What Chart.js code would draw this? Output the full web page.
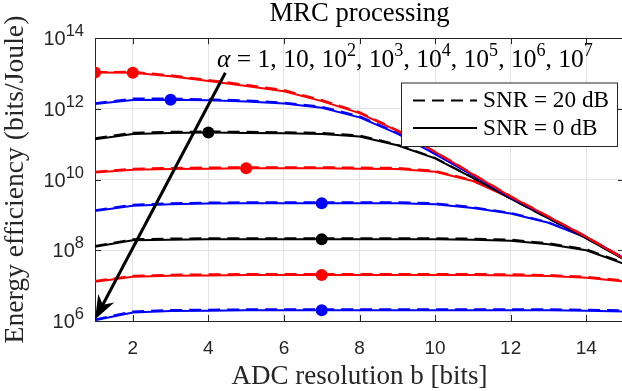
<!DOCTYPE html>
<html><head><meta charset="utf-8">
<script src="https://cdn.jsdelivr.net/npm/chart.js@4"></script>
<style>
html,body{margin:0;padding:0;background:#fff;overflow:hidden;width:622px;height:391px}
#wrap{position:relative;width:630px;height:391px}
canvas{display:block}
</style>
</head><body><div id="wrap"><canvas id="c" width="630" height="391"></canvas></div>
<script>
// ---------------- data ----------------
const bits = [1,2,3,4,5,6,7,8,9,10,11,12,13,14,15];
const xTickValues = [2,4,6,8,10,12,14];
const yTickValues = [1e6,1e8,1e10,1e12,1e14];
const yTickExponents = ['6','8','10','12','14'];
const alphaExponents = ['', '', '2','3','4','5','6','7']; // alpha = 1, 10, 10^2 ... 10^7

// SNR = 0 dB (solid)
const ee0dB_a1e0 = [1.07e13,1.05e13,8.32e12,6.17e12,4.47e12,3.16e12,1.66e12,7.59e11,2.40e11,6.03e10,1.41e10,3.31e9,8.91e8,2.40e8,5.75e7];
const ee0dB_a1e1 = [1.38e12,1.78e12,1.82e12,1.74e12,1.62e12,1.41e12,1.07e12,5.75e11,2.00e11,5.25e10,1.32e10,3.16e9,8.71e8,2.40e8,5.89e7];
const ee0dB_a1e2 = [1.38e11,1.95e11,2.09e11,2.14e11,2.09e11,2.04e11,1.95e11,1.66e11,9.33e10,3.98e10,1.12e10,2.88e9,7.94e8,2.19e8,5.50e7];
const ee0dB_a1e3 = [1.58e10,1.91e10,2.00e10,2.04e10,2.09e10,2.09e10,2.09e10,2.04e10,2.00e10,1.66e10,9.12e9,3.02e9,8.51e8,2.34e8,6.03e7];
const ee0dB_a1e4 = [1.29e9,1.82e9,2.00e9,2.09e9,2.14e9,2.14e9,2.14e9,2.14e9,2.14e9,2.00e9,1.58e9,1.10e9,6.03e8,2.29e8,5.89e7];
const ee0dB_a1e5 = [1.26e8,1.91e8,2.00e8,2.04e8,2.04e8,2.04e8,2.04e8,2.04e8,2.04e8,2.04e8,2.00e8,1.86e8,1.48e8,1.00e8,4.17e7];
const ee0dB_a1e6 = [1.29e7,1.78e7,1.91e7,1.95e7,2.00e7,2.00e7,2.00e7,2.00e7,2.00e7,2.00e7,2.00e7,1.95e7,1.86e7,1.66e7,1.32e7];
const ee0dB_a1e7 = [1.05e6,1.74e6,1.91e6,1.95e6,2.00e6,2.00e6,2.00e6,2.00e6,2.00e6,2.00e6,2.00e6,2.00e6,2.00e6,1.95e6,1.86e6];

// SNR = 20 dB (dashed)
const ee20dB_a1e0 = [1.10e13,1.12e13,8.90e12,6.60e12,4.80e12,3.40e12,1.78e12,8.10e11,2.50e11,6.20e10,1.45e10,3.40e9,9.10e8,2.45e8,5.90e7];
const ee20dB_a1e1 = [1.45e12,1.95e12,1.95e12,1.86e12,1.74e12,1.51e12,1.15e12,6.20e11,2.10e11,5.40e10,1.35e10,3.20e9,8.80e8,2.42e8,5.90e7];
const ee20dB_a1e2 = [1.48e11,2.10e11,2.24e11,2.29e11,2.24e11,2.19e11,2.09e11,1.78e11,9.80e10,4.10e10,1.14e10,2.90e9,8.00e8,2.20e8,5.60e7];
const ee20dB_a1e3 = [1.66e10,2.04e10,2.14e10,2.19e10,2.24e10,2.24e10,2.24e10,2.19e10,2.14e10,1.78e10,9.50e9,3.10e9,8.60e8,2.36e8,6.10e7];
const ee20dB_a1e4 = [1.35e9,1.95e9,2.14e9,2.24e9,2.29e9,2.29e9,2.29e9,2.29e9,2.29e9,2.14e9,1.66e9,1.15e9,6.20e8,2.32e8,5.90e7];
const ee20dB_a1e5 = [1.32e8,2.04e8,2.14e8,2.19e8,2.19e8,2.19e8,2.19e8,2.19e8,2.19e8,2.19e8,2.14e8,2.00e8,1.58e8,1.07e8,4.40e7];
const ee20dB_a1e6 = [1.35e7,1.91e7,2.04e7,2.09e7,2.14e7,2.14e7,2.14e7,2.14e7,2.14e7,2.14e7,2.14e7,2.09e7,2.00e7,1.78e7,1.41e7];
const ee20dB_a1e7 = [1.10e6,1.86e6,2.04e6,2.09e6,2.14e6,2.14e6,2.14e6,2.14e6,2.14e6,2.14e6,2.14e6,2.14e6,2.14e6,2.09e6,2.00e6];

// optimum points (markers)
const optimumBits = [1,2,3,4,5,7,7,7,7];
const optimumEE   = [1.07e13,1.05e13,1.82e12,2.14e11,2.09e10,2.14e9,2.04e8,2.00e7,2.00e6];

// arrow annotation (data coordinates)
const arrowStart = {x: 4.45, y: 1.05e13};
const arrowEnd   = {x: 1.0,  y: 1.1e6};

// ---------------- styles ----------------
const RED = '#ff0000', BLUE = '#0000ff', BLACK = '#000000';
const curveColors = [RED, BLUE, BLACK, RED, BLUE, BLACK, RED, BLUE];
const optimumColors = [RED, RED, BLUE, BLACK, RED, BLUE, BLACK, RED, BLUE];
const AXIS = '#262626', GRID = '#e3e3e3';
const DASH = [12, 7];
const SERIF = '"Liberation Serif", "Times New Roman", serif';
const SANS = '"Liberation Sans", Arial, sans-serif';

function fitSize(text, family, targetWidth, style) {
  const c = document.createElement('canvas').getContext('2d');
  c.font = (style || '') + ' 100px ' + family;
  return 100 * targetWidth / c.measureText(text).width;
}
const titleText = 'MRC processing';
const xTitleText = 'ADC resolution b [bits]';
const yTitleText = 'Energy efficiency (bits/Joule)';
const leg20 = 'SNR = 20 dB', leg0 = 'SNR = 0 dB';
const titleSize = fitSize(titleText, SERIF, 180);
const xTitleSize = fitSize(xTitleText, SERIF, 256);
const yTitleSize = fitSize(yTitleText, SERIF, 328);
const legSize = fitSize(leg20, SERIF, 126);

const solid = [ee0dB_a1e0,ee0dB_a1e1,ee0dB_a1e2,ee0dB_a1e3,ee0dB_a1e4,ee0dB_a1e5,ee0dB_a1e6,ee0dB_a1e7];
const dashed = [ee20dB_a1e0,ee20dB_a1e1,ee20dB_a1e2,ee20dB_a1e3,ee20dB_a1e4,ee20dB_a1e5,ee20dB_a1e6,ee20dB_a1e7];

const datasets = [];
solid.forEach((arr, i) => {
  datasets.push({label:'SNR = 0 dB', data: bits.map((b,j)=>({x:b,y:arr[j]})), borderColor: curveColors[i],
    borderWidth: 2, pointRadius: 0, tension: 0, fill:false});
  datasets.push({label:'SNR = 20 dB', data: bits.map((b,j)=>({x:b,y:dashed[i][j]})), borderColor: curveColors[i],
    borderWidth: 2, borderDash: DASH, pointRadius: 0, tension: 0, fill:false});
});
datasets.push({label:'optimum', data: optimumBits.map((b,j)=>({x:b,y:optimumEE[j]})), showLine:false,
  pointRadius: 6, pointHoverRadius: 6, pointBackgroundColor: optimumColors, pointBorderWidth: 0, borderWidth: 0});

// ---------------- drawing plugin ----------------
const decor = {
  id: 'decor',
  afterDatasetsDraw(chart) {
    const {ctx, chartArea: a, scales: {x, y}} = chart;
    ctx.save();
    // box + inward ticks
    ctx.strokeStyle = AXIS; ctx.lineWidth = 1;
    ctx.beginPath();
    ctx.moveTo(a.left, Math.round(a.top)+0.5); ctx.lineTo(a.right, Math.round(a.top)+0.5);
    ctx.moveTo(a.right-0.5, a.top); ctx.lineTo(a.right-0.5, a.bottom);
    xTickValues.forEach(v => {
      const px = Math.round(x.getPixelForValue(v)) + 0.5;
      ctx.moveTo(px, a.bottom); ctx.lineTo(px, a.bottom - 6);
      ctx.moveTo(px, a.top); ctx.lineTo(px, a.top + 6);
    });
    yTickValues.forEach(v => {
      const py = Math.round(y.getPixelForValue(v)) + 0.5;
      ctx.moveTo(a.left, py); ctx.lineTo(a.left + 6, py);
      ctx.moveTo(a.right, py); ctx.lineTo(a.right - 6, py);
    });
    ctx.stroke();

    // y tick labels with superscripts
    ctx.fillStyle = AXIS;
    const baseFont = '20px ' + SANS, supFont = '16.5px ' + SANS;
    yTickValues.forEach((v, i) => {
      const py = y.getPixelForValue(v);
      const exp = yTickExponents[i];
      ctx.font = supFont; const ws = ctx.measureText(exp).width;
      ctx.font = baseFont; const wb = ctx.measureText('10').width;
      const right = a.left - 11;
      ctx.textAlign = 'left';
      ctx.textBaseline = 'middle';
      ctx.fillText('10', right - ws - wb, py + 1.5);
      ctx.font = supFont; ctx.textBaseline = 'alphabetic';
      ctx.fillText(exp, right - ws, py - 2);
    });

    // arrow
    const tx = x.getPixelForValue(arrowEnd.x), ty = y.getPixelForValue(arrowEnd.y);
    const sx = x.getPixelForValue(arrowStart.x), sy = y.getPixelForValue(arrowStart.y);
    const len = Math.hypot(sx - tx, sy - ty);
    const ux = (sx - tx) / len, uy = (sy - ty) / len, nx = -uy, ny = ux;
    const L = 24, W = 9;
    ctx.strokeStyle = BLACK; ctx.lineWidth = 3;
    ctx.beginPath(); ctx.moveTo(sx, sy); ctx.lineTo(tx + ux * L * 0.6, ty + uy * L * 0.6); ctx.stroke();
    ctx.fillStyle = BLACK;
    ctx.beginPath();
    ctx.moveTo(tx, ty);
    ctx.lineTo(tx + ux * L + nx * W, ty + uy * L + ny * W);
    ctx.lineTo(tx + ux * L * 0.7, ty + uy * L * 0.7);
    ctx.lineTo(tx + ux * L - nx * W, ty + uy * L - ny * W);
    ctx.closePath(); ctx.fill();

    // alpha annotation
    const aSize = 24, supSize = 17;
    const segs = [{t:'α', it:true}, {t:' = '}];
    alphaExponents.forEach((e, i) => {
      if (i > 0) segs.push({t:', '});
      if (i === 0) segs.push({t:'1'});
      else { segs.push({t:'10'}); if (e) segs.push({t:e, sup:true}); }
    });
    let total = 0;
    segs.forEach(s => { ctx.font = (s.it ? 'italic ' : '') + (s.sup ? supSize : aSize) + 'px ' + SERIF; s.w = ctx.measureText(s.t).width; total += s.w; });
    const scale = 376 / total;
    let cx = 217; const base = 67;
    ctx.fillStyle = BLACK; ctx.textAlign = 'left'; ctx.textBaseline = 'alphabetic';
    segs.forEach(s => {
      const fs = (s.sup ? supSize : aSize) * scale;
      ctx.font = (s.it ? 'italic ' : '') + fs + 'px ' + SERIF;
      ctx.fillText(s.t, cx, s.sup ? base - aSize * scale * 0.42 : base);
      cx += ctx.measureText(s.t).width;
    });

    // legend
    const lx = 401, ly = 82.5, lw = 216, lh = 63.5;
    ctx.fillStyle = '#ffffff'; ctx.fillRect(lx, ly, lw, lh);
    ctx.strokeStyle = AXIS; ctx.lineWidth = 1; ctx.strokeRect(lx + 0.5, ly + 0.5, lw, lh);
    ctx.strokeStyle = BLACK; ctx.lineWidth = 2;
    ctx.setLineDash(DASH);
    ctx.beginPath(); ctx.moveTo(413, 100.5); ctx.lineTo(477, 100.5); ctx.stroke();
    ctx.setLineDash([]);
    ctx.beginPath(); ctx.moveTo(413, 128); ctx.lineTo(477, 128); ctx.stroke();
    ctx.fillStyle = BLACK; ctx.font = legSize + 'px ' + SERIF; ctx.textBaseline = 'middle';
    ctx.fillText(leg20, 483, 101);
    ctx.fillText(leg0, 483, 128.5);
    ctx.restore();
  }
};

new Chart(document.getElementById('c'), {
  type: 'line',
  data: { datasets },
  options: {
    responsive: false, animation: false, devicePixelRatio: 1, events: [],
    layout: { padding: { left: 0, right: 5.3, top: 0, bottom: 0 } },
    plugins: {
      legend: { display: false }, tooltip: { enabled: false },
      title: { display: true, text: titleText, fullSize: false, color: BLACK,
        font: { family: SERIF, size: titleSize, weight: 'normal', lineHeight: 1 },
        padding: { top: 0.5, bottom: 11 } }
    },
    scales: {
      x: {
        type: 'linear', min: 1, max: 15,
        afterBuildTicks: s => { s.ticks = xTickValues.map(v => ({value: v})); },
        afterFit: s => { s.height = 70; },
        grid: { color: GRID, lineWidth: 1, drawTicks: false },
        border: { color: AXIS, width: 1 },
        ticks: { color: AXIS, font: { family: SANS, size: 19 }, padding: 16, maxRotation: 0, autoSkip: false },
        title: { display: true, text: xTitleText, color: AXIS,
          font: { family: SERIF, size: xTitleSize, lineHeight: 1 }, padding: { top: 0, bottom: 0.5 } }
      },
      y: {
        type: 'logarithmic', min: 1e6, max: 1e14,
        afterBuildTicks: s => { s.ticks = yTickValues.map(v => ({value: v})); },
        afterFit: s => { s.width = 95; },
        grid: { color: GRID, lineWidth: 1, drawTicks: false },
        border: { color: AXIS, width: 1 },
        ticks: { display: false },
        title: { display: true, text: yTitleText, color: AXIS,
          font: { family: SERIF, size: yTitleSize, lineHeight: 1 }, padding: { top: 2, bottom: 0 } }
      }
    }
  },
  plugins: [decor]
});
</script>
</body></html>
